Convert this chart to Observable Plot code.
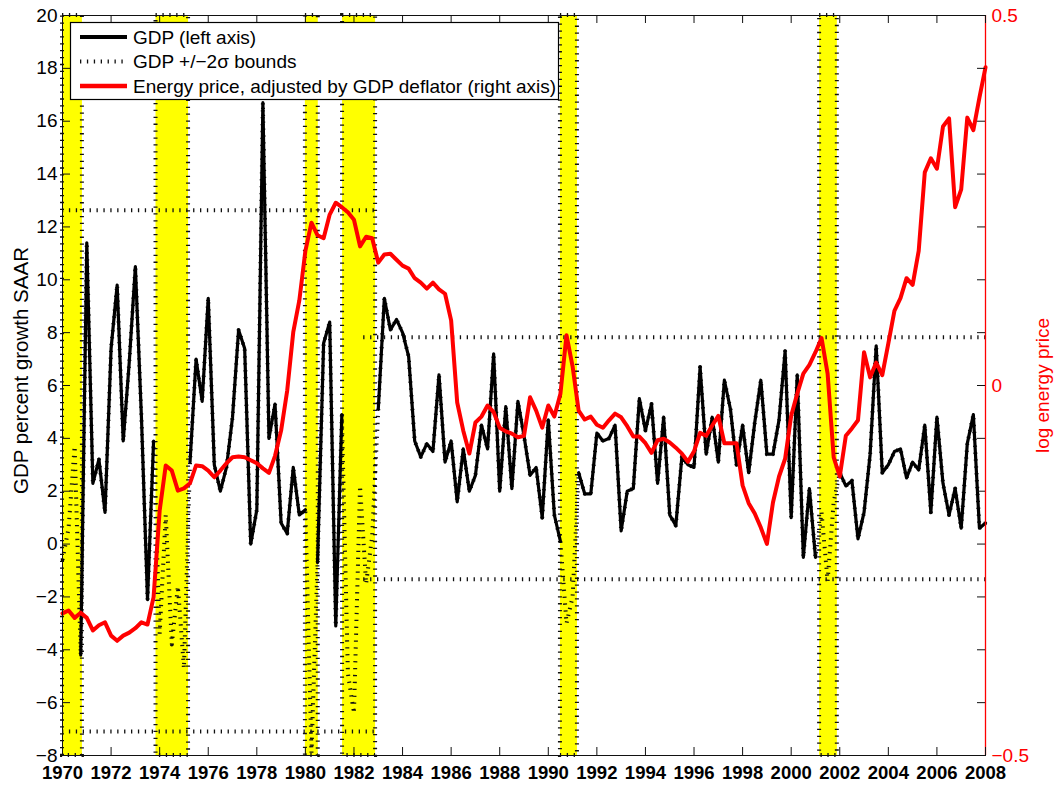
<!DOCTYPE html>
<html><head><meta charset="utf-8">
<script src="https://cdn.jsdelivr.net/npm/d3@7"></script>
<script src="https://cdn.jsdelivr.net/npm/@observablehq/plot@0.6"></script>
<style>
html,body{margin:0;padding:0;background:#fff;}
#chart svg{display:block;}
</style>
</head><body><div id="chart"></div>
<script>
// ---------------- data ----------------
const startYear = 1970; // 1970Q1, quarterly observations
const gdpGrowth = [
  -0.6, 0.6, 3.7, -4.2,
  11.4, 2.3, 3.2, 1.2,
  7.4, 9.8, 3.9, 6.9,
  10.5, 4.8, -2.1, 3.9,
  -3.4, 1.1, -3.8, -1.6,
  -4.7, 3.1, 7.0, 5.4,
  9.3, 3.0, 2.0, 2.9,
  4.8, 8.1, 7.4, 0.0,
  1.3, 16.7, 4.0, 5.3,
  0.8, 0.4, 2.9, 1.1,
  1.3, -7.9, -0.7, 7.6,
  8.4, -3.1, 4.9, -4.9,
  -6.4, 2.2, -1.5, 0.3,
  5.1, 9.3, 8.1, 8.5,
  8.0, 7.1, 3.9, 3.3,
  3.8, 3.5, 6.4, 3.1,
  3.9, 1.6, 3.6, 2.0,
  2.6, 4.5, 3.6, 7.2,
  2.0, 5.2, 2.1, 5.4,
  4.1, 2.6, 2.9, 1.0,
  4.7, 1.1, 0.1, -3.0,
  -2.0, 2.7, 1.9, 1.9,
  4.2, 3.9, 4.0, 4.5,
  0.5, 2.0, 2.1, 5.5,
  4.3, 5.3, 2.3, 4.8,
  1.1, 0.7, 3.3, 3.0,
  2.9, 6.7, 3.4, 4.8,
  3.1, 6.2, 5.1, 3.0,
  4.5, 2.7, 4.6, 6.2,
  3.4, 3.4, 4.7, 7.3,
  1.0, 6.4, -0.5, 2.1,
  -0.5, 1.2, -1.4, 1.6,
  2.7, 2.2, 2.4, 0.2,
  1.2, 3.4, 7.5, 2.7,
  3.0, 3.5, 3.6, 2.5,
  3.1, 2.8, 4.5, 1.2,
  4.8, 2.3, 1.1, 2.1,
  0.6, 3.8, 4.9, 0.6,
  0.8
];
const energyLog = [
  -0.308, -0.304, -0.314, -0.307,
  -0.314, -0.331, -0.324, -0.320,
  -0.338, -0.345, -0.338, -0.334,
  -0.328, -0.320, -0.323, -0.286,
  -0.169, -0.108, -0.115, -0.142,
  -0.139, -0.132, -0.108, -0.109,
  -0.115, -0.124, -0.115, -0.105,
  -0.097, -0.096, -0.097, -0.101,
  -0.105, -0.112, -0.118, -0.095,
  -0.061, -0.007, 0.072, 0.115,
  0.182, 0.220, 0.203, 0.199,
  0.231, 0.247, 0.241, 0.234,
  0.224, 0.188, 0.201, 0.199,
  0.166, 0.177, 0.178, 0.170,
  0.162, 0.158, 0.145, 0.139,
  0.131, 0.139, 0.130, 0.124,
  0.088, -0.023, -0.061, -0.092,
  -0.050, -0.042, -0.027, -0.036,
  -0.057, -0.062, -0.065, -0.070,
  -0.068, -0.016, -0.034, -0.057,
  -0.027, -0.042, -0.011, 0.068,
  0.026, -0.034, -0.046, -0.042,
  -0.053, -0.057, -0.047, -0.038,
  -0.043, -0.055, -0.069, -0.069,
  -0.078, -0.091, -0.074, -0.072,
  -0.077, -0.084, -0.092, -0.103,
  -0.089, -0.064, -0.068, -0.054,
  -0.041, -0.078, -0.078, -0.078,
  -0.135, -0.159, -0.173, -0.192,
  -0.214, -0.158, -0.123, -0.099,
  -0.041, -0.011, 0.016, 0.028,
  0.045, 0.064, 0.016, -0.097,
  -0.123, -0.068, -0.058, -0.047,
  0.045, 0.011, 0.031, 0.014,
  0.057, 0.101, 0.118, 0.145,
  0.136, 0.182, 0.288, 0.307,
  0.293, 0.350, 0.361, 0.241,
  0.265, 0.362, 0.345, 0.389,
  0.430
];
const recessionStart = [1969.9, 1973.85, 1980.0, 1981.53, 1990.5, 2001.17];
const recessionEnd   = [1970.82, 1975.19, 1980.53, 1982.89, 1991.2, 2001.9];
const boundStart = [1970, 1982.4];
const boundEnd   = [1982.9, 2008];
const boundUpper = [12.63, 7.83];
const boundLower = [-7.09, -1.33];
const xDomain = [1970, 2008];
const yDomain = [-8, 20];
const rDomain = [-0.5, 0.5];
const xTicks = [1970,1972,1974,1976,1978,1980,1982,1984,1986,1988,1990,1992,1994,1996,1998,2000,2002,2004,2006,2008];
const yTicks = [-8,-6,-4,-2,0,2,4,6,8,10,12,14,16,18,20];
const rightTicks = [-0.5, 0, 0.5];
const legendLabels = ["GDP (left axis)", "GDP +/\u22122\u03c3 bounds", "Energy price, adjusted by GDP deflator (right axis)"];
const yTitle = "GDP percent growth SAAR";
const rTitle = "log energy price";

// ---------------- build ----------------
const FONT = "'Liberation Sans', Arial, Helvetica, sans-serif";
const DOT = {stroke: "#111", strokeWidth: 4, strokeDasharray: "1.3 5.6", strokeLinecap: "butt"};
const gdp = gdpGrowth.map((g, i) => ({t: startYear + i / 4, g}));
const energy = energyLog.map((v, i) => ({t: startYear + i / 4, v}));
const recessions = recessionStart.map((s, i) => ({start: Math.max(s, xDomain[0]), end: recessionEnd[i]}));
const bounds = boundStart.map((s, i) => ({start: s, end: boundEnd[i], upper: boundUpper[i], lower: boundLower[i]}));
const inRec = t => recessions.some(r => t > r.start && t + 0.1 < r.end);
const toLeft = v => yDomain[0] + (v - rDomain[0]) / (rDomain[1] - rDomain[0]) * (yDomain[1] - yDomain[0]);
const fromLeft = y => rDomain[0] + (y - yDomain[0]) / (yDomain[1] - yDomain[0]) * (rDomain[1] - rDomain[0]);
const minus = s => String(s).replace("-", "\u2212");
const fmtR = y => { const v = Math.round(fromLeft(y) * 1000) / 1000; return minus(v === 0 ? "0" : String(v)); };

const chart = Plot.plot({
  width: 1055, height: 785,
  marginLeft: 62, marginRight: 70, marginTop: 15, marginBottom: 30,
  x: {domain: xDomain},
  y: {domain: yDomain},
  style: {fontFamily: FONT, background: "white", overflow: "visible"},
  marks: [
    Plot.rect(recessions, {x1: "start", x2: "end", fill: "#ffff00", ...DOT}),
    Plot.ruleY(bounds, {y: "upper", x1: "start", x2: "end", ...DOT}),
    Plot.ruleY(bounds, {y: "lower", x1: "start", x2: "end", ...DOT}),
    Plot.line(gdp, {x: "t", y: "g", ...DOT}),
    Plot.line(gdp, {x: "t", y: d => inRec(d.t) ? NaN : d.g, stroke: "black", strokeWidth: 3.2, strokeLinejoin: "round"}),
    Plot.line(energy, {x: "t", y: d => toLeft(d.v), stroke: "#ff0000", strokeWidth: 4, strokeLinejoin: "round"}),
    Plot.frame({stroke: "#111"}),
    Plot.ruleX([xDomain[1]], {stroke: "#ff0000", strokeWidth: 1.3}),
    Plot.tickX(xTicks, {x: d => d, insetTop: 732, stroke: "#111"}),
    Plot.tickX(xTicks, {x: d => d, insetBottom: 732, stroke: "#111"}),
    Plot.tickY(yTicks, {y: d => d, insetRight: 915, stroke: "#111"}),
    Plot.tickY(yTicks, {y: d => d, insetLeft: 915, stroke: "#111"}),
    Plot.axisX(xTicks, {anchor: "bottom", tickSize: 0, tickPadding: 10, fontSize: 18.5, fontWeight: "bold", fill: "black", tickFormat: d => String(d), label: null}),
    Plot.axisY(yTicks, {anchor: "left", tickSize: 0, tickPadding: 5, fontSize: 19, fill: "black", tickFormat: minus, label: null}),
    Plot.axisY(rightTicks.map(toLeft), {anchor: "right", tickSize: 0, tickPadding: 6, fontSize: 19, fill: "#ff0000", tickFormat: fmtR, label: null}),
    Plot.text([yTitle], {frameAnchor: "left", textAnchor: "middle", dx: -41, dy: -15, rotate: -90, text: d => d, fontSize: 20.5, fill: "black"}),
    Plot.text([rTitle], {frameAnchor: "right", textAnchor: "middle", dx: 57, rotate: -90, text: d => d, fontSize: 19, fill: "#ff0000"})
  ]
});

// legend
const svg = d3.select(chart);
const lg = svg.append("g").attr("font-family", FONT).attr("text-anchor", "start");
lg.append("rect").attr("x", 70.5).attr("y", 22.5).attr("width", 488).attr("height", 77)
  .attr("fill", "white").attr("stroke", "black").attr("stroke-width", 1.2);
const rowY = [37, 61.5, 86];
const styles = [
  {stroke: "black", w: 4, dash: null},
  {stroke: "#111", w: 4, dash: "1.3 5.6"},
  {stroke: "#ff0000", w: 4.5, dash: null}
];
legendLabels.forEach((lab, i) => {
  const l = lg.append("line").attr("x1", 80).attr("x2", 127).attr("y1", rowY[i]).attr("y2", rowY[i])
    .attr("stroke", styles[i].stroke).attr("stroke-width", styles[i].w);
  if (styles[i].dash) l.attr("stroke-dasharray", styles[i].dash);
  lg.append("text").attr("x", 133).attr("y", rowY[i]).attr("dy", "0.36em")
    .attr("fill", "black").style("font-size", "19px").style("font-family", FONT).attr("text-anchor", "start").text(lab);
});

document.getElementById("chart").appendChild(chart);
</script>
</body></html>
